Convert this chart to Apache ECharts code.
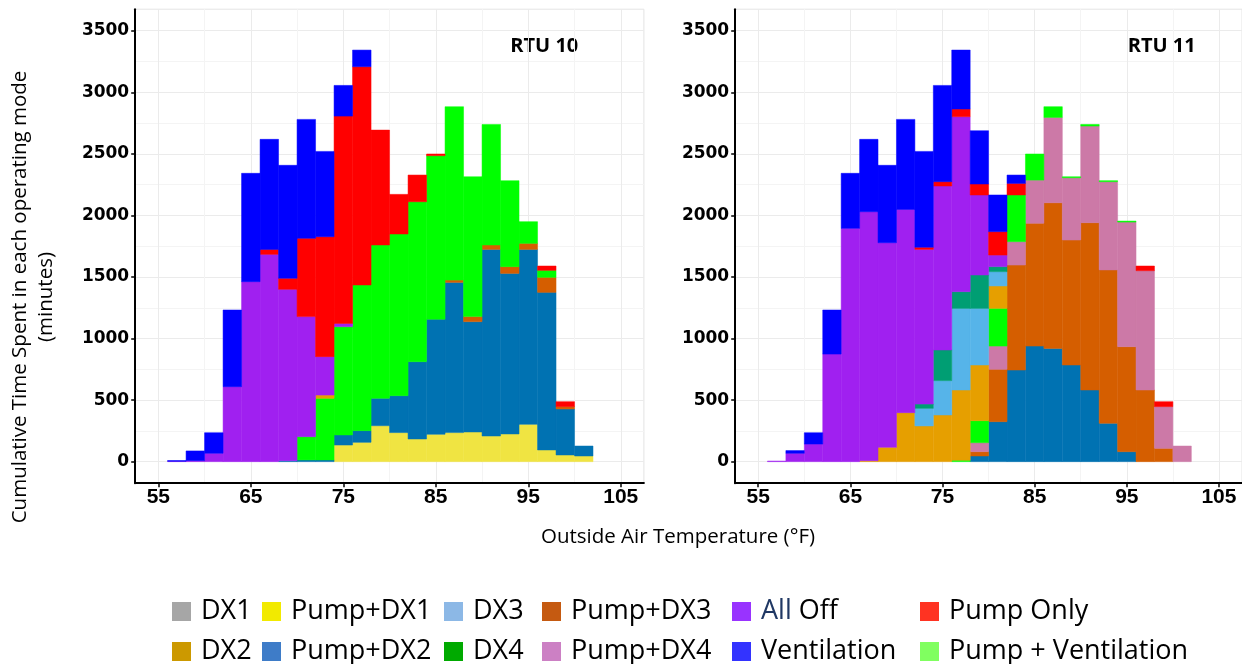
<!DOCTYPE html>
<html>
<head>
<meta charset="utf-8">
<script src="https://cdn.jsdelivr.net/npm/echarts@6/dist/echarts.min.js"></script>
<style>
html,body{margin:0;padding:0;background:#fff;}
#chart{width:1242px;height:664px;}
</style>
</head>
<body>
<div id="chart"></div>
<script>
// ---- data (minutes per 2°F bin) ----
const binStarts = [56,58,60,62,64,66,68,70,72,74,76,78,80,82,84,86,88,90,92,94,96,98,100];
const binWidth = 2;
const xTickLabels = [55,65,75,85,95,105];
const xMinorTicks = [60,70,80,90,100];
const yTickLabels = [0,500,1000,1500,2000,2500,3000,3500];
const yMinorTicks = [250,750,1250,1750,2250,2750,3250];
const panelTitles = ['RTU 10','RTU 11'];

// stack order, bottom to top
const modes = ['Pump+DX1','Pump+DX2','Pump+DX3','Pump+DX4','Pump + Ventilation','DX1','DX2','DX3','DX4','All Off','Pump Only','Ventilation'];

// RTU 10
const rtu10_pumpDX1 = [0,0,0,0,0,0,0,0,0,135,157,292,236,184,222,236,241,208,225,303,95,54,46];
const rtu10_pumpDX2 = [0,0,0,0,0,0,8,14,14,82,95,222,300,628,934,1220,896,1516,1304,1421,1280,374,81];
const rtu10_pumpDX3 = [0,0,0,0,0,0,0,0,0,0,0,0,0,0,0,19,41,36,55,49,122,19,0];
const rtu10_pumpDX4 = [0,0,0,0,0,0,0,0,0,0,0,0,0,0,0,0,0,0,0,0,0,0,0];
const rtu10_pumpVent = [0,0,0,0,0,0,0,189,500,879,1183,1246,1313,1299,1329,1408,1136,979,698,176,57,0,0];
const rtu10_DX1 = [0,0,0,0,0,0,0,0,0,0,0,0,0,0,0,0,0,0,0,0,0,0,0];
const rtu10_DX2 = [0,0,0,0,0,0,0,0,27,0,0,0,0,0,0,0,0,0,0,0,0,0,0];
const rtu10_DX3 = [0,0,0,0,0,0,0,0,0,0,0,0,0,0,0,0,0,0,0,0,0,0,0];
const rtu10_DX4 = [0,0,0,0,0,0,0,0,0,0,0,0,0,0,0,0,0,0,0,0,0,0,0];
const rtu10_allOff = [3,8,68,609,1462,1684,1392,975,312,27,0,0,0,0,0,0,0,0,0,0,0,0,0];
const rtu10_pumpOnly = [0,0,0,0,0,40,89,636,974,1684,1773,933,322,217,14,0,0,0,0,0,35,40,0];
const rtu10_vent = [6,79,167,623,880,894,918,966,693,249,135,0,0,0,0,0,0,0,0,0,0,0,0];

// RTU 11
const rtu11_pumpDX1 = [0,0,0,0,0,0,0,0,0,0,0,0,0,0,0,0,0,0,0,0,0,0,0];
const rtu11_pumpDX2 = [0,0,0,0,0,0,0,0,0,0,0,46,325,744,939,920,785,582,311,81,0,0,0];
const rtu11_pumpDX3 = [0,0,0,0,0,0,0,0,0,0,0,35,425,853,997,1183,1015,1359,1246,853,582,108,0];
const rtu11_pumpDX4 = [0,0,0,0,0,0,0,0,0,0,0,73,189,190,351,693,506,785,717,1012,969,339,127];
const rtu11_pumpVent = [0,0,0,0,0,0,0,0,0,0,12,179,306,379,212,87,8,13,8,8,0,0,0];
const rtu11_DX1 = [0,0,0,0,0,0,0,0,0,0,0,0,0,0,0,0,0,0,0,0,0,0,0];
const rtu11_DX2 = [0,0,0,0,0,8,116,398,290,379,570,452,182,0,0,0,0,0,0,0,0,0,0];
const rtu11_DX3 = [0,0,0,0,0,0,0,0,143,279,663,460,116,0,0,0,0,0,0,0,0,0,0];
const rtu11_DX4 = [0,0,0,0,0,0,0,0,35,249,136,271,41,0,0,0,0,0,0,0,0,0,0];
const rtu11_allOff = [5,68,143,874,1895,2022,1662,1651,1256,1332,1421,650,94,0,0,0,0,0,0,0,0,0,0];
const rtu11_pumpOnly = [0,0,0,0,0,0,0,0,17,35,62,89,190,94,0,0,0,0,0,0,38,40,0];
const rtu11_vent = [0,22,92,358,447,588,629,731,779,782,479,433,298,68,0,0,0,0,0,0,0,0,0];

const panels = [
  [rtu10_pumpDX1,rtu10_pumpDX2,rtu10_pumpDX3,rtu10_pumpDX4,rtu10_pumpVent,rtu10_DX1,rtu10_DX2,rtu10_DX3,rtu10_DX4,rtu10_allOff,rtu10_pumpOnly,rtu10_vent],
  [rtu11_pumpDX1,rtu11_pumpDX2,rtu11_pumpDX3,rtu11_pumpDX4,rtu11_pumpVent,rtu11_DX1,rtu11_DX2,rtu11_DX3,rtu11_DX4,rtu11_allOff,rtu11_pumpOnly,rtu11_vent]
];

// ---- styles ----
const barColors = {
  'Pump+DX1':'#f0e442','Pump+DX2':'#0072b2','Pump+DX3':'#d55e00','Pump+DX4':'#cc79a7',
  'Pump + Ventilation':'#00ff00','DX1':'#999999','DX2':'#e69f00','DX3':'#56b4e9','DX4':'#009e73',
  'All Off':'#a020f0','Pump Only':'#ff0000','Ventilation':'#0000ff'
};
const legendColors = {
  'DX1':'#a6a6a6','Pump+DX1':'#f2ea00','DX3':'#8cb8e6','Pump+DX3':'#c55a11','All Off':'#9933ff','Pump Only':'#ff3322',
  'DX2':'#cc9900','Pump+DX2':'#3e7cc8','DX4':'#00aa00','Pump+DX4':'#cc80c4','Ventilation':'#3333ff','Pump + Ventilation':'#80ff60'
};
const legendCols = [['DX1','DX2'],['Pump+DX1','Pump+DX2'],['DX3','DX4'],['Pump+DX3','Pump+DX4'],['All Off','Ventilation'],['Pump Only','Pump + Ventilation']];
const legendLefts = [172,262,444,542,732,920];

const gridLefts = [135.2, 735.2];
const grids = gridLefts.map(l => ({left:l, top:9.2, width:508.7, height:474, show:true, borderColor:'#e4e4e4', borderWidth:1, backgroundColor:'transparent'}));

const xAxes = [], yAxes = [];
gridLefts.forEach((l, g) => {
  xAxes.push({
    type:'value', gridIndex:g, min:52.5, max:107.5, position:'bottom',
    axisLine:{show:true, onZero:false, lineStyle:{color:'#000', width:2}},
    axisTick:{show:true, customValues:xTickLabels, length:4, lineStyle:{color:'#000', width:1.5}},
    axisLabel:{show:true, customValues:xTickLabels, color:'#000', fontFamily:'Liberation Sans', fontWeight:'bold', fontSize:21, margin:4,
      formatter: v => String(v)},
    splitLine:{show:true, lineStyle:{color:'#ebebeb', width:1}}
  });
  xAxes.push({
    type:'value', gridIndex:g, min:52.5, max:107.5, position:'bottom',
    axisLine:{show:false}, axisTick:{show:false, customValues:xMinorTicks}, axisLabel:{show:false, customValues:xMinorTicks},
    splitLine:{show:true, lineStyle:{color:'#f4f4f4', width:1}}
  });
  yAxes.push({
    type:'value', gridIndex:g, min:-175, max:3675, position:'left',
    axisLine:{show:true, onZero:false, lineStyle:{color:'#000', width:2}},
    axisTick:{show:true, customValues:yTickLabels, length:4, lineStyle:{color:'#000', width:1.5}},
    axisLabel:{show:true, customValues:yTickLabels, color:'#000', fontFamily:'DejaVu Sans', fontWeight:'bold', fontSize:17, margin:6,
      formatter: v => String(v)},
    splitLine:{show:true, lineStyle:{color:'#ebebeb', width:1}}
  });
  yAxes.push({
    type:'value', gridIndex:g, min:-175, max:3675, position:'left',
    axisLine:{show:false}, axisTick:{show:false, customValues:yMinorTicks}, axisLabel:{show:false, customValues:yMinorTicks},
    splitLine:{show:true, lineStyle:{color:'#f4f4f4', width:1}}
  });
});

const series = [];
panels.forEach((panel, g) => {
  const cum = binStarts.map(() => 0);
  modes.forEach((mode, m) => {
    const vals = panel[m];
    const data = [];
    binStarts.forEach((b, i) => {
      const v = vals[i];
      if (v > 0) data.push([b, b + binWidth, cum[i], cum[i] + v]);
      cum[i] += v;
    });
    const c = barColors[mode];
    series.push({
      type:'custom', name:mode, xAxisIndex:g*2, yAxisIndex:g*2,
      itemStyle:{color:c},
      encode:{x:[0,1], y:[2,3]},
      data:data,
      renderItem:(params, api) => {
        const p0 = api.coord([api.value(0), api.value(2)]);
        const p1 = api.coord([api.value(1), api.value(3)]);
        return {type:'rect', shape:{x:p0[0], y:p1[1], width:p1[0]-p0[0], height:p0[1]-p1[1]},
          style:{fill:c, stroke:c, lineWidth:0.5}};
      }
    });
  });
});

const legends = legendCols.map((names, k) => ({
  orient:'vertical', left:legendLefts[k], top:598, width:300, height:200, padding:0,
  itemWidth:19, itemHeight:19, itemGap:13, icon:'rect',
  formatter: n => n === 'All Off' ? '{a|All} Off' : n,
  textStyle:{fontFamily:'Open Sans', fontSize:27, color:'#000', lineHeight:19, padding:[0,0,0,5],
    rich:{a:{fontFamily:'Open Sans', fontSize:27, color:'#203864', lineHeight:19}}},
  data:names.map(n => ({name:n, itemStyle:{color:legendColors[n]}}))
}));

const txt = (text, x, y, font, extra) => Object.assign({
  type:'text', x:x, y:y, silent:true,
  style:{text:text, font:font, fill:'#000', align:'center', verticalAlign:'middle', textAlign:'center', textVerticalAlign:'middle'}
}, extra || {});

const graphics = [
  txt(panelTitles[0], 544.3, 46, 'bold 20px "Open Sans"'),
  txt(panelTitles[1], 1161.7, 46, 'bold 20px "Open Sans"'),
  txt('Outside Air Temperature (°F)', 678, 537, '20.5px "Open Sans"'),
  txt('Cumulative Time Spent in each operating mode\n(minutes)', 33, 297, '20.5px "Open Sans"', {rotation:Math.PI/2})
];
graphics[3].style.lineHeight = 26;

const chart = echarts.init(document.getElementById('chart'), null, {renderer:'canvas'});
chart.setOption({
  animation:false,
  backgroundColor:'#fff',
  grid:grids,
  xAxis:xAxes,
  yAxis:yAxes,
  legend:legends,
  series:series,
  graphic:graphics
});
</script>
</body>
</html>
